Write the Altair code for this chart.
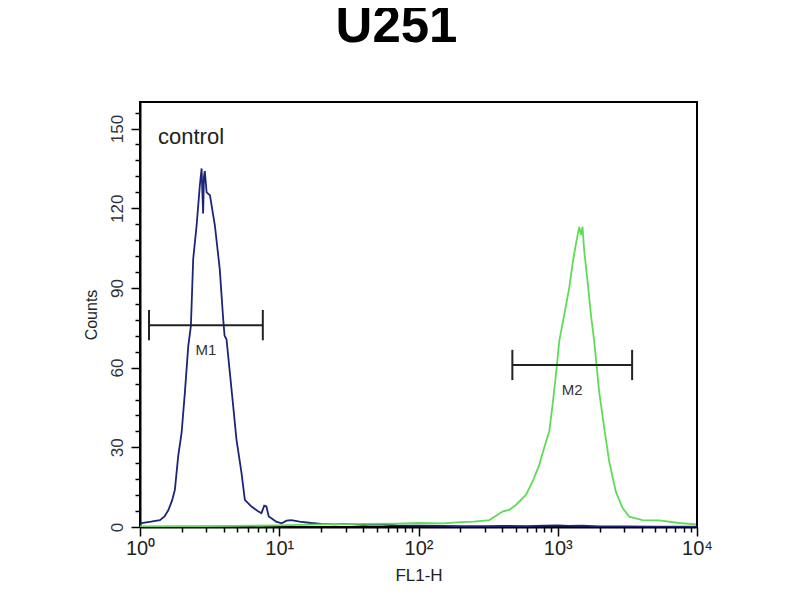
import altair as alt
import pandas as pd

# ---- data ----
blue_fl = [1.0, 1.03, 1.2, 1.39, 1.5, 1.6, 1.7, 1.78, 1.88, 1.99, 2.1, 2.22, 2.32, 2.41,
           2.55, 2.69, 2.77, 2.80, 2.84, 2.88, 2.92, 3.01, 3.18, 3.45, 3.74, 3.96, 4.05,
           4.18, 4.42, 4.67, 4.93, 5.36, 5.66, 6.32, 7.0, 7.45, 7.8, 8.09, 8.4, 8.79, 9.5,
           10.4, 11.3, 12.2, 14, 17, 20, 25, 30, 40, 50, 70, 100, 150, 200, 300, 400, 600,
           800, 1000, 1200, 1500, 2000, 3000, 5000, 10000]
blue_counts = [1.0, 1.5, 2.0, 2.6, 4.0, 6.4, 10, 14, 26.6, 35.5, 50.6, 68, 75.7, 100.9,
               113.5, 128.6, 135, 127, 118, 132, 134, 126, 124.9, 113.5, 97, 78, 72,
               70.7, 58, 45.5, 32.9, 20.3, 10.2, 7.7, 6.0, 5.2, 8.0, 7.7, 4.0, 3.3, 2.0,
               1.4, 2.4, 2.6, 2.0, 1.5, 1.2, 1.0, 1.2, 0.8, 1.0, 0.6, 0.5, 0.4, 0.3, 0.3, 0.4, 0.3,
               0.5, 0.6, 0.4, 0.5, 0.2, 0.2, 0.1, 0.1]

green_fl = [1.0, 2, 5, 10, 20, 40, 70, 100, 150, 200, 250, 323, 402, 450, 501, 591, 659, 737,
            800, 869, 918, 971, 1025, 1114, 1209, 1277, 1350, 1426, 1470, 1506, 1549, 1636,
            1730, 1827, 1983, 2155, 2340, 2613, 2915, 3256, 4055, 5340, 7430, 9840]
green_counts = [0.2, 0.3, 0.4, 0.6, 1.0, 1.2, 1.3, 1.5, 1.4, 1.8, 2.0, 2.6, 5.8, 6.5, 8.3,
                12.1, 17.1, 23.4, 29.9, 36, 46, 57.5, 70, 80, 90, 99, 106.6, 113, 110, 113,
                104, 92.7, 80, 70, 51, 37.4, 24.7, 13.3, 7.2, 3.9, 2.6, 2.5, 1.5, 1.0]

marker_names = ["M1", "M2"]
marker_lo = [1.16, 472]
marker_hi = [7.62, 3420]
marker_level = [76, 61]
cap_half = 5.7

x_major = [1, 10, 100, 1000, 10000]
x_minor = [k * 10 ** d for d in range(4) for k in range(2, 10)]
y_major = [0, 30, 60, 90, 120, 150]
y_minor = [v for v in range(6, 160, 6) if v % 30 != 0]

# ---- tables ----
curves = pd.concat([
    pd.DataFrame({"fl": blue_fl, "count": blue_counts, "series": "control"}),
    pd.DataFrame({"fl": green_fl, "count": green_counts, "series": "sample"}),
])
markers = pd.DataFrame({"name": marker_names, "lo": marker_lo, "hi": marker_hi,
                        "level": marker_level})
markers["mid"] = (markers["lo"] * markers["hi"]) ** 0.5
caps = pd.DataFrame({
    "x": marker_lo + marker_hi,
    "y1": [l - cap_half for l in marker_level] * 2,
    "y2": [l + cap_half for l in marker_level] * 2,
})

FONT = "Liberation Sans"
xscale = alt.Scale(type="log", domain=[1, 10000], nice=False)
yscale = alt.Scale(domain=[0, 160], nice=False, zero=True)

x_axis = alt.Axis(
    values=x_major, title="FL1-H", orient="bottom", grid=False,
    labelExpr="'10' + ['\u2070','\u00b9','\u00b2','\u00b3','\u2074'][round(log(datum.value)/LN10)]",
    labelFont=FONT, labelFontSize=20, labelColor="#222", labelPadding=2,
    tickSize=9, tickColor="black", tickWidth=1.5, domainColor="black", domainWidth=2,
    titleFont=FONT, titleFontSize=17, titleFontWeight="normal", titleColor="#222",
    titlePadding=9, labelFlush=False, labelOverlap=False,
)
y_axis = alt.Axis(
    values=y_major, title="Counts", orient="left", grid=False, labelAngle=270,
    labelFont=FONT, labelFontSize=17, labelColor="#333", labelPadding=5,
    labelAlign="center", labelBaseline="bottom",
    tickSize=9, tickColor="black", tickWidth=1.5, domainColor="black", domainWidth=2,
    titleFont=FONT, titleFontSize=16, titleFontWeight="normal", titleColor="#222",
    titlePadding=9,
)
x_minor_axis = alt.Axis(values=x_minor, labels=False, domain=False, grid=False, title=None,
                        orient="bottom", tickSize=5, tickColor="black", tickWidth=1.5)
y_minor_axis = alt.Axis(values=y_minor, labels=False, domain=False, grid=False, title=None,
                        orient="left", tickSize=5, tickColor="black", tickWidth=1.5)

lines = alt.Chart(curves).mark_line(strokeWidth=1.8, clip=True).encode(
    x=alt.X("fl:Q", scale=xscale, axis=x_axis),
    y=alt.Y("count:Q", scale=yscale, axis=y_axis),
    color=alt.Color("series:N", scale=alt.Scale(domain=["control", "sample"],
                                                range=["#1c2577", "#5fdc55"]), legend=None),
    order=alt.Order("fl:Q"),
)

bars = alt.Chart(markers).mark_rule(color="#222", strokeWidth=2).encode(
    x=alt.X("lo:Q", scale=xscale, axis=x_minor_axis),
    x2="hi:Q",
    y=alt.Y("level:Q", scale=yscale, axis=y_minor_axis),
)

cap_rules = alt.Chart(caps).mark_rule(color="#222", strokeWidth=2).encode(
    x=alt.X("x:Q", scale=xscale, axis=None),
    y=alt.Y("y1:Q", scale=yscale, axis=None),
    y2="y2:Q",
)

labels = alt.Chart(markers).mark_text(font=FONT, fontSize=15, color="#333", dy=25).encode(
    x=alt.X("mid:Q", scale=xscale, axis=None),
    y=alt.Y("level:Q", scale=yscale, axis=None),
    text="name:N",
)

control_txt = alt.Chart(pd.DataFrame({"t": ["control"]})).mark_text(
    font=FONT, fontSize=22, color="#222", align="left", baseline="middle"
).encode(x=alt.value(18), y=alt.value(35), text="t:N")

chart = alt.layer(lines, bars, cap_rules, labels, control_txt).resolve_axis(
    x="independent", y="independent"
).properties(
    width=557, height=425,
    title=alt.TitleParams("U251", font=FONT, fontSize=51, fontWeight="bold", color="black",
                          anchor="middle", dx=-22, offset=49),
    padding={"left": 132, "top": 94, "right": 95, "bottom": 73},
    autosize="none",
).configure(background="white").configure_view(stroke="black", strokeWidth=2)

chart.save("out.html", embed_options={"renderer": "svg", "actions": False})
